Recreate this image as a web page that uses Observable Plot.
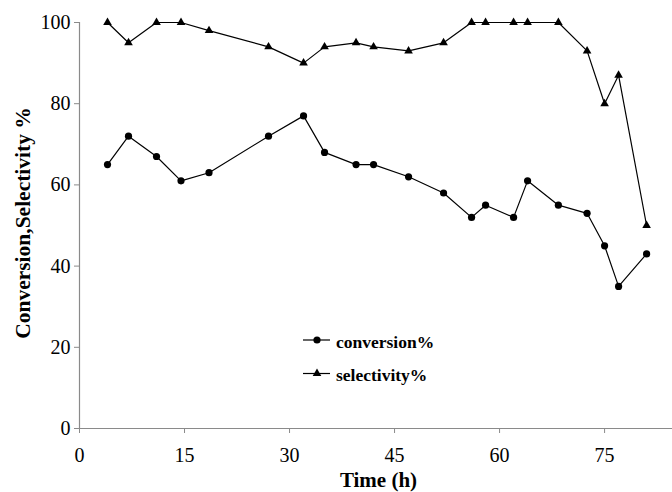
<!DOCTYPE html>
<html>
<head>
<meta charset="utf-8">
<script src="https://cdn.jsdelivr.net/npm/d3@7"></script>
<script src="https://cdn.jsdelivr.net/npm/@observablehq/plot@0.6"></script>
<style>
  html, body { margin: 0; padding: 0; background: #fff; }
  #chart { width: 672px; height: 492px; }
</style>
</head>
<body>
<div id="chart"></div>
<script>
// Time (h)
const timeH = [4, 7, 11, 14.5, 18.5, 27, 32, 35, 39.5, 42, 47, 52, 56, 58, 62, 64, 68.4, 72.5, 75, 77, 81];
// conversion %
const conversion = [65, 72, 67, 61, 63, 72, 77, 68, 65, 65, 62, 58, 52, 55, 52, 61, 55, 53, 45, 35, 43];
// selectivity %
const selectivity = [100, 95, 100, 100, 98, 94, 90, 94, 95, 94, 93, 95, 100, 100, 100, 100, 100, 93, 80, 87, 50];

const xTicks = [0, 15, 30, 45, 60, 75];
const yTicks = [0, 20, 40, 60, 80, 100];
const seriesNames = ["conversion%", "selectivity%"];

const convData = timeH.map((t, i) => ({t, v: conversion[i]}));
const selData = timeH.map((t, i) => ({t, v: selectivity[i]}));

const axisGray = "#8a8a8a";
const serif = "'Liberation Serif', 'Times New Roman', serif";

const chart = Plot.plot({
  width: 672,
  height: 492,
  marginLeft: 79,
  marginRight: 0,
  marginTop: 22,
  marginBottom: 64,
  style: {fontFamily: serif, fontSize: "20px", color: "black", background: "white"},
  x: {domain: [0, 84.7]},
  y: {domain: [0, 100]},
  marks: [
    Plot.axisX({ticks: xTicks, tickSize: 5, tickPadding: 14, stroke: axisGray, fill: "black", label: null, fontSize: 20}),
    Plot.axisY({ticks: yTicks, tickSize: 5, tickPadding: 4, stroke: axisGray, fill: "black", label: null, fontSize: 20}),
    Plot.ruleY([0], {stroke: axisGray, strokeWidth: 1.2}),
    Plot.ruleX([0], {stroke: axisGray, strokeWidth: 1.2}),
    Plot.line(convData, {x: "t", y: "v", stroke: "black", strokeWidth: 1.2}),
    Plot.line(selData, {x: "t", y: "v", stroke: "black", strokeWidth: 1.2}),
    Plot.dot(convData, {x: "t", y: "v", r: 3.6, fill: "black", stroke: "none"}),
    Plot.dot(selData, {x: "t", y: "v", r: 3.2, symbol: "triangle", fill: "black", stroke: "none"}),
    Plot.text(["Time (h)"], {frameAnchor: "bottom", lineAnchor: "middle", textAnchor: "middle", dx: 2.5, dy: 51.5, fontWeight: "bold", fontSize: 21, fill: "black"}),
    Plot.text(["Conversion,Selectivity %"], {frameAnchor: "left", lineAnchor: "middle", textAnchor: "middle", dx: -56.5, dy: -2.5, rotate: -90, fontWeight: "bold", fontSize: 21.5, fill: "black"})
  ]
});

document.getElementById("chart").appendChild(chart);

// Legend (inside plot area)
const svg = d3.select(chart);
const leg = svg.append("g").attr("font-family", serif).attr("font-size", 17.5).attr("font-weight", "bold");
const legItems = [
  {name: seriesNames[0], y: 340, sym: d3.symbolCircle, size: Math.PI * 3.6 * 3.6},
  {name: seriesNames[1], y: 373.5, sym: d3.symbolTriangle, size: Math.PI * 3.2 * 3.2}
];
legItems.forEach(it => {
  leg.append("line").attr("x1", 303).attr("x2", 330).attr("y1", it.y).attr("y2", it.y)
    .attr("stroke", "black").attr("stroke-width", 1.2);
  leg.append("path").attr("d", d3.symbol(it.sym, it.size)()).attr("transform", `translate(317,${it.y})`).attr("fill", "black");
  leg.append("text").attr("x", 336).attr("y", it.y + 7.5).attr("text-anchor", "start").attr("fill", "black").text(it.name);
});
</script>
</body>
</html>
